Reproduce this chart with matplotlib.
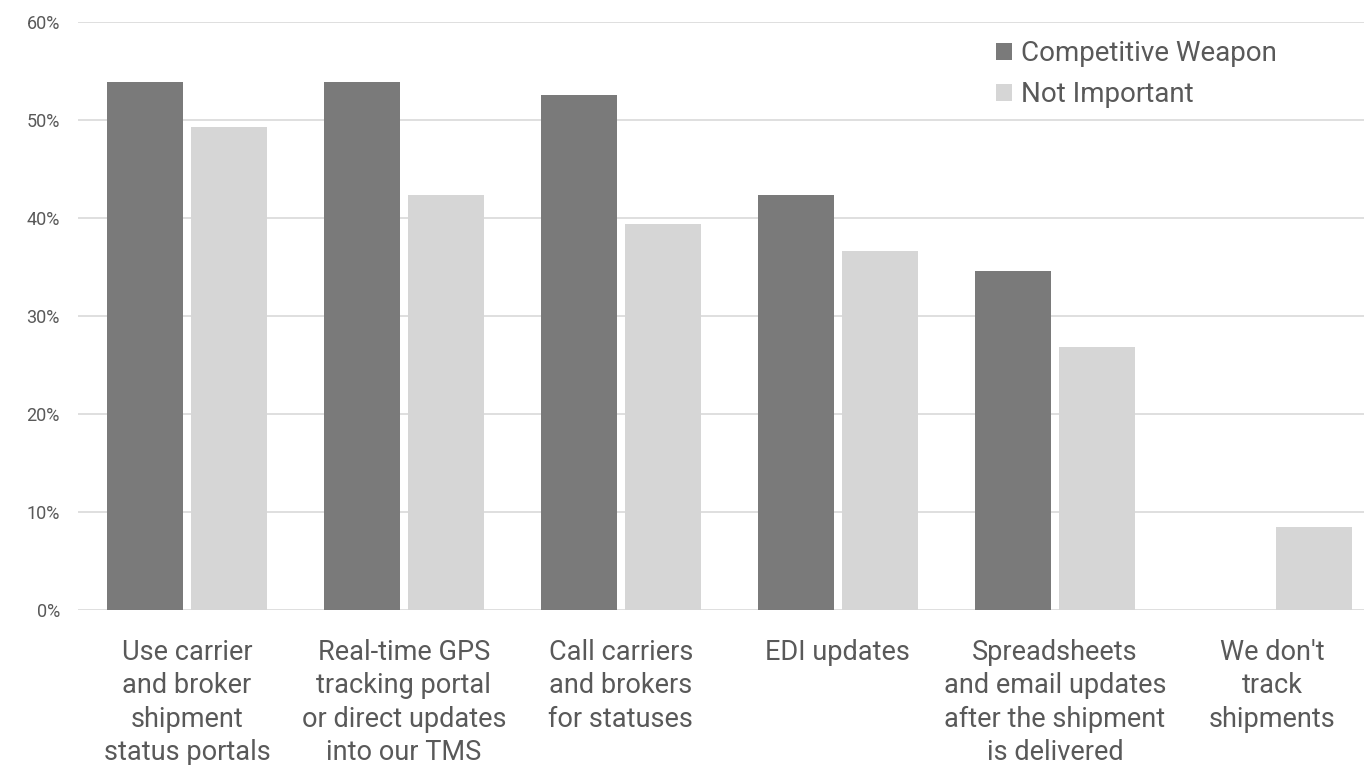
import matplotlib.pyplot as plt
import numpy as np

plt.rcParams['font.family'] = ['Roboto', 'DejaVu Sans']

# Chart data (percent)
categories = ['Use carrier\nand broker\nshipment\nstatus portals',
              'Real-time GPS\ntracking portal\nor direct updates\ninto our TMS',
              'Call carriers\nand brokers\nfor statuses',
              'EDI updates',
              'Spreadsheets\nand email updates\nafter the shipment\nis delivered',
              "We don't\ntrack\nshipments"]
competitive_weapon = [53.9, 53.9, 52.6, 42.3, 34.6, 0.0]
not_important = [49.3, 42.3, 39.4, 36.6, 26.8, 8.5]
yticks = [0, 10, 20, 30, 40, 50, 60]

dark = '#7a7a7a'
light = '#d6d6d6'
text_col = '#595959'

fig = plt.figure(figsize=(13.64, 7.65), dpi=100)
# axes runs past the right edge of the figure, like the original crop
ax = fig.add_axes([78 / 1364, 155 / 765, 1302 / 1364, 588 / 765])

x = np.arange(len(categories))
w = 0.35
off = 0.1935
ax.bar(x - off, competitive_weapon, width=w, color=dark, label='Competitive Weapon', zorder=3)
ax.bar(x + off, not_important, width=w, color=light, label='Not Important', zorder=3)

ax.set_xlim(-0.502, 5.498)
ax.set_ylim(0, 60)
ax.set_yticks(yticks)
ax.set_yticklabels([f'{v}%' for v in yticks], fontsize=13, color=text_col)
ax.tick_params(axis='y', length=0, pad=13)
ax.set_xticks(x)
ax.set_xticklabels(categories, fontsize=19.5, color=text_col, linespacing=1.3)
ax.tick_params(axis='x', length=0, pad=21)
ax.yaxis.grid(True, color='#dcdcdc', linewidth=1.3, zorder=0)
ax.set_axisbelow(True)
for s in ax.spines.values():
    s.set_visible(False)

fig.legend(loc='upper left', bbox_to_anchor=(996 / 1364, 1 - 40 / 765),
           fontsize=20, frameon=False, borderpad=0, borderaxespad=0,
           handlelength=0.58, handleheight=0.58,
           handletextpad=0.32, labelspacing=0.52, labelcolor=text_col)

fig.savefig('out.png', dpi=100)
